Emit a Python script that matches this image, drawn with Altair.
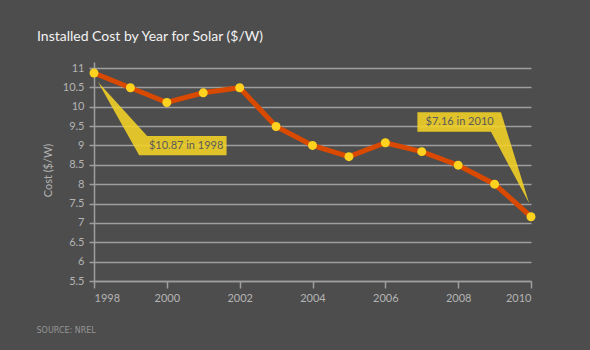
import altair as alt
import pandas as pd

# ---- data ----
years = [1998, 1999, 2000, 2001, 2002, 2003, 2004, 2005, 2006, 2007, 2008, 2009, 2010]
costs = [10.87, 10.49, 10.11, 10.36, 10.49, 9.49, 9.0, 8.71, 9.07, 8.84, 8.49, 8.0, 7.16]

x_ticks = [1998, 2000, 2002, 2004, 2006, 2008, 2010]
y_ticks = [5.5, 6, 6.5, 7, 7.5, 8, 8.5, 9, 9.5, 10, 10.5, 11]

# callout shapes (data coordinates)
callout1_x = [1998.11, 1999.46, 2001.64, 2001.64, 1999.24]
callout1_y = [10.64, 9.244, 9.244, 8.746, 8.746]
callout2_x = [2006.88, 2009.175, 2009.95, 2008.90, 2006.88]
callout2_y = [9.856, 9.856, 7.507, 9.355, 9.355]

label_text = ["$10.87 in 1998", "$7.16 in 2010"]
label_x = [2000.53, 2008.04]
label_y = [8.986, 9.598]

# ---- tables ----
df = pd.DataFrame({"year": years, "cost": costs})
poly_rows = []
for cid, (xs, ys) in enumerate([(callout1_x, callout1_y), (callout2_x, callout2_y)]):
    for i, (xv, yv) in enumerate(zip(xs, ys)):
        poly_rows.append({"cid": cid, "idx": i, "year": xv, "cost": yv})
poly_df = pd.DataFrame(poly_rows)
lab_df = pd.DataFrame({"year": label_x, "cost": label_y, "label": label_text})

BG = "#4d4d4d"
GRID = "#9e9e9e"
LABEL = "#b4b4b4"
FONT = "Lato"

X = alt.X(
    "year:Q",
    scale=alt.Scale(domain=[1998, 2010], nice=False, zero=False),
    axis=alt.Axis(
        values=x_ticks, format="d", grid=False,
        domainColor=GRID, domainWidth=1.5,
        tickColor=GRID, tickSize=7, tickWidth=1.5,
        labelColor=LABEL, labelFont=FONT, labelFontSize=11, labelPadding=4,
        title="SOURCE: NREL", titleX=-58, titleY=49, titleAlign="left",
        titleBaseline="middle", titleFont="DejaVu Sans", titleFontSize=8,
        titleFontWeight="normal", titleColor="#959595",
    ),
)
Y = alt.Y(
    "cost:Q",
    scale=alt.Scale(domain=[5.5, 11.155], nice=False, zero=False),
    axis=alt.Axis(
        values=y_ticks, format="~g", grid=True,
        gridColor=GRID, gridWidth=1.5,
        domainColor=GRID, domainWidth=1.5,
        tickColor=GRID, tickSize=5, tickWidth=1.5,
        labelColor=LABEL, labelFont=FONT, labelFontSize=11, labelPadding=5,
        title="Cost ($/W)", titleAngle=270, titleX=-46, titleY=108,
        titleAlign="center", titleBaseline="middle",
        titleFont=FONT, titleFontSize=11, titleFontWeight="normal",
        titleColor=LABEL,
    ),
)

poly = alt.Chart(poly_df).mark_line(
    fill="#f5d426", stroke="#f5d426", strokeWidth=0, fillOpacity=0.88
).encode(x=X, y=Y, detail="cid:N", order="idx:Q")

line = alt.Chart(df).mark_line(color="#d94a00", strokeWidth=5).encode(x=X, y=Y)

pts = alt.Chart(df).mark_point(
    filled=True, color="#ffd21f", size=80, opacity=1
).encode(x=X, y=Y)

labels = alt.Chart(lab_df).mark_text(
    font=FONT, fontSize=11, color="#5a5a5a"
).encode(x=X, y=Y, text="label:N")

chart = alt.layer(poly, line, pts, labels).properties(
    width=437,
    height=219,
    autosize=alt.AutoSizeParams(type="none"),
    padding={"left": 94, "top": 62, "right": 59, "bottom": 69},
    title=alt.TitleParams(
        "Installed Cost by Year for Solar ($/W)",
        anchor="start", frame="group", dx=-57, offset=7, baseline="alphabetic",
        font=FONT, fontSize=14, fontWeight="normal", color="#f2f2f2",
    ),
).configure(background=BG).configure_view(stroke=None)

chart.save("out.html", embed_options={"renderer": "svg", "actions": False})
